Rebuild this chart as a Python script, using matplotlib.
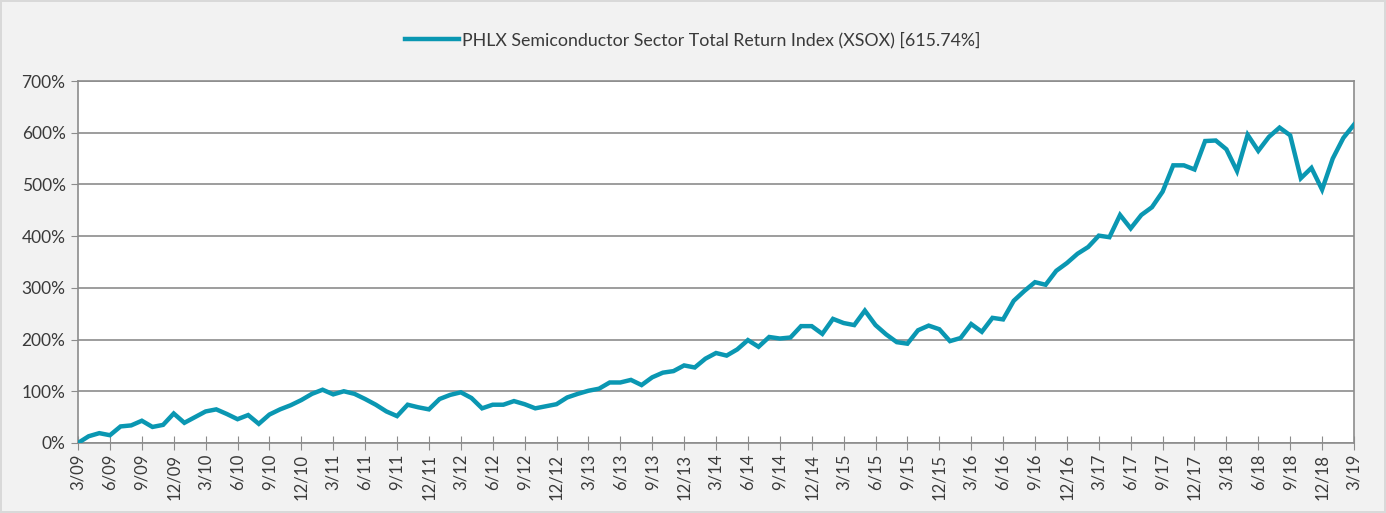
import numpy as np
import matplotlib
matplotlib.use('Agg')
import matplotlib.pyplot as plt
from matplotlib.ticker import FixedLocator, PercentFormatter

plt.rcParams['font.family'] = ['Lato', 'DejaVu Sans']

# monthly cumulative total return, 3/09 .. 3/19 (%)
returns = [
    0, 13, 19, 15, 32, 34, 43, 31, 35, 57,                      # 2009 (Mar-Dec)
    39, 50, 61, 65, 56, 46, 54, 37, 55, 65, 73, 83,             # 2010
    95, 103, 94, 100, 95, 85, 74, 61, 52, 74, 69, 65,           # 2011
    85, 93, 98, 87, 67, 74, 74, 81, 75, 67, 71, 75,             # 2012
    88, 95, 101, 105, 117, 117, 122, 112, 127, 136, 139, 150,   # 2013
    146, 163, 174, 169, 181, 199, 186, 205, 202, 204, 226, 226, # 2014
    211, 240, 232, 228, 256, 228, 210, 195, 192, 218, 227, 220, # 2015
    197, 203, 230, 215, 242, 239, 275, 294, 311, 306, 333, 348, # 2016
    366, 379, 401, 398, 441, 415, 441, 456, 486, 537, 537, 529, # 2017
    584, 585, 568, 526, 596, 565, 592, 610, 595, 512, 532, 490, # 2018
    550, 590, 615.74,                                           # 2019 (Jan-Mar)
]
series_label = 'PHLX Semiconductor Sector Total Return Index (XSOX) [615.74%]'

months = np.arange(len(returns))
tick_pos = months[::3]
tick_labels = []
for m in tick_pos:
    mon = (2 + m) % 12 + 1
    yr = 9 + (2 + m) // 12
    tick_labels.append('%d/%02d' % (mon, yr))

fig = plt.figure(figsize=(13.86, 5.13), dpi=100)
fig.patch.set_facecolor('#f2f2f2')
fig.patch.set_edgecolor('#d9d9d9')
fig.patch.set_linewidth(1.5)

ax = fig.add_axes([0.0563, 0.1365, 0.9206, 0.7055])
ax.set_facecolor('white')
ax.plot(months, returns, color='#0a97b2', lw=3.2, solid_joinstyle='miter',
        label=series_label, zorder=3)

ax.set_xlim(0, len(returns) - 1)
ax.set_ylim(0, 700)
ax.set_yticks(np.arange(0, 701, 100))
ax.yaxis.set_major_formatter(PercentFormatter(decimals=0))
ax.xaxis.set_major_locator(FixedLocator(tick_pos))
ax.set_xticklabels(tick_labels, rotation=90)

ax.grid(axis='y', color='#8c8c8c', lw=1.2)
for s in ax.spines.values():
    s.set_color('#8c8c8c')
    s.set_linewidth(1.2)
ax.tick_params(axis='y', direction='out', length=5, color='#8c8c8c',
               labelsize=12.5, labelcolor='#3a3a3a', pad=4)
ax.tick_params(axis='x', direction='inout', length=10, color='#8c8c8c',
               labelsize=12, labelcolor='#3a3a3a', pad=3)

fig.legend(loc='upper center', bbox_to_anchor=(0.5, 0.97), frameon=False,
           fontsize=12.8, handlelength=3.0, handletextpad=0.2,
           labelcolor='#3a3a3a')

fig.savefig('out.png', dpi=100, facecolor=fig.get_facecolor(),
            edgecolor=fig.get_edgecolor())
